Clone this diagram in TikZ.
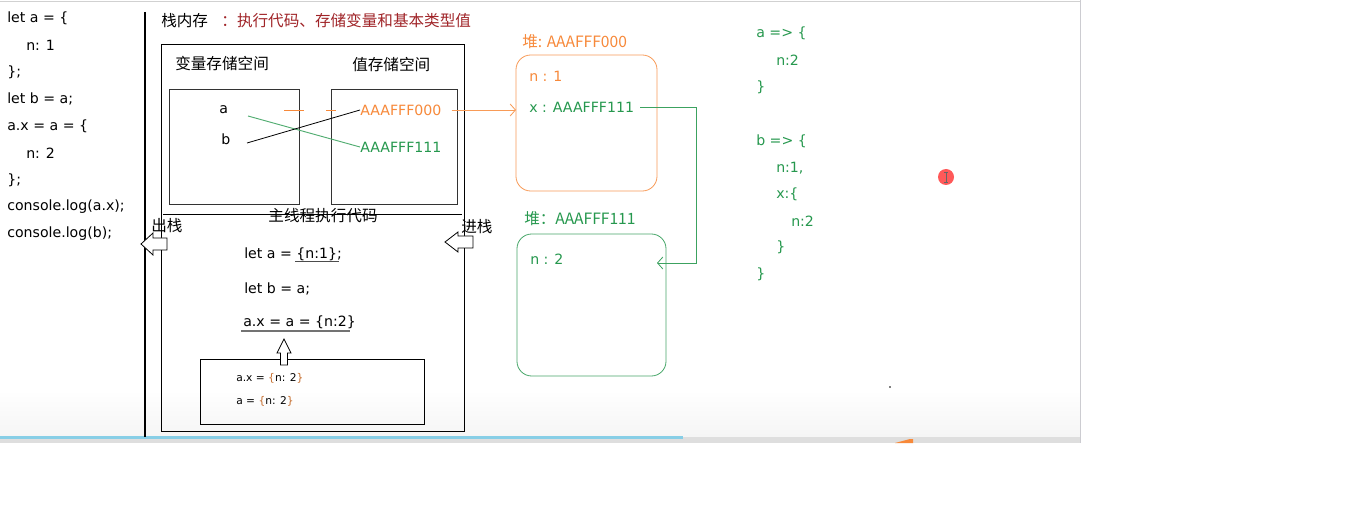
\documentclass[tikz,border=0pt]{standalone}
\usepackage{fontspec}
\setmainfont{DejaVu Sans}
\newfontfamily\cjk{Noto Sans CJK SC}
\usetikzlibrary{arrows.meta}
\definecolor{org}{RGB}{247,137,58}
\definecolor{grn}{RGB}{38,152,78}
\definecolor{dred}{RGB}{160,36,40}
\definecolor{barblue}{RGB}{135,206,230}
\begin{document}
\begin{tikzpicture}[x=0.75pt,y=-0.75pt,
  code/.style={anchor=west,inner sep=0pt,font=\fontsize{10.6pt}{12pt}\selectfont},
  small/.style={anchor=west,inner sep=0pt,font=\fontsize{8pt}{10pt}\selectfont},
  cn/.style={anchor=west,inner sep=0pt,font=\cjk\fontsize{11.7pt}{13pt}\selectfont},
  gcode/.style={code,text=grn},
  box/.style={draw=black,line width=0.7pt},
  heap/.style={rounded corners=11pt,line width=0.6pt}]
\useasboundingbox (0,0) rectangle (1357,531);
\fill[white] (0,0) rectangle (1357,531);
% screenshot frame
\shade[top color=white,bottom color=black!4] (0,390) rectangle (1080,437);
\fill[black!13] (0,437) rectangle (1080,443);
\fill[barblue] (0,436) rectangle (683,438.5);
\draw[black!18] (0,1.5) -- (1080,1.5);
\draw[blue!10!black!20] (1080,0) -- (1080,443);
\fill[org] (895,443) -- (910,439) -- (913,439) -- (913,443) -- cycle;
% left code
\node[code] (l1) at (7,18) {let a = \{};
\node[code] (l2) at (26,45) {n: 1};
\node[code] (l3) at (7,72) {\};};
\node[code] (l4) at (7,99) {let b = a;};
\node[code] (l5) at (7,126) {a.x = a = \{};
\node[code] (l6) at (26,153) {n: 2};
\node[code] (l7) at (7,180) {\};};
\node[code] (l8) at (7,207) {console.log(a.x);};
\node[code] (l9) at (7,234) {console.log(b);};
\draw[line width=0.8pt] (145,12) -- (145,437);
% title
\node[cn] (title) at (161,21) {栈内存\hspace{10pt}\textcolor{dred}{：执行代码、存储变量和基本类型值}};
% stack boxes
\draw[box] (161,44) rectangle (464,431);
\node[cn] (varsp) at (175,64) {变量存储空间};
\node[cn] (valsp) at (352,65) {值存储空间};
\draw[box,black!80,line width=0.6pt] (169,89) rectangle (299,204);
\draw[box,black!80,line width=0.6pt] (331,89) rectangle (457,204);
\node[code] (va) at (219,110) {a};
\node[code] (vb) at (221,139) {b};
\node[code,text=org] (v0) at (360,110) {AAAFFF000};
\node[code,text=grn] (v1) at (360,147) {AAAFFF111};
\draw[org,line width=0.6pt] (284,110) -- (304,110) (326,110) -- (336,110);
\draw[grn!80,line width=0.7pt] (248,116) -- (v1.west);
\draw[black,line width=0.6pt] (247,143) -- (v0.west);
% main thread
\draw[line width=0.6pt] (163,214) -- (462,214);
\node[cn,anchor=center] (main) at (323,216) {主线程执行代码};
\node[cn] (out) at (151,226) {出栈};
\node[cn] (in) at (461,227) {进栈};
\draw[line width=0.6pt,fill=white] (141,244) -- (153,233) -- (153,238) -- (167,238) -- (167,250) -- (153,250) -- (153,255) -- cycle;
\draw[line width=0.6pt,fill=white] (445,242) -- (458,232) -- (458,236) -- (473,236) -- (473,248) -- (458,248) -- (458,252) -- cycle;
\node[code] (s1) at (244,254) {let a = \{n:1\};};
\draw[black!70,line width=0.6pt] (295,261.5) -- (339,261.5);
\node[code] (s2) at (244,289) {let b = a;};
\node[code] (s3) at (243,322) {a.x = a = \{n:2\}};
\draw[black!55,line width=1.2pt] (241,331) -- (350,331);
\draw[box] (200,359) rectangle (424,424);
\draw[line width=0.6pt,fill=white] (284,339) -- (291,353) -- (287.5,353) -- (287.5,365) -- (280.5,365) -- (280.5,353) -- (277,353) -- cycle;
\node[small] (b1) at (236,378) {a.x = \textcolor{org!80!black}{\{}n: 2\textcolor{org!80!black}{\}}};
\node[small] (b2) at (236,401) {a = \textcolor{org!80!black}{\{}n: 2\textcolor{org!80!black}{\}}};
% heap 1
\node[cn,text=org] (h0t) at (522,42) {堆: AAAFFF000};
\draw[heap,draw=org!85] (516,55) rectangle (657,191);
\coordinate (h0w) at (516,110);
\node[code,text=org] (n1) at (529,76) {n : 1};
\node[code,text=grn] (x1) at (529,107) {x : AAAFFF111};
\draw[org!85,line width=0.6pt,-{Straight Barb[length=4pt,width=9pt]}] (v0.east) ++(10,0) -- (h0w);
% heap 2
\node[cn,text=grn] (h1t) at (524,219) {堆：AAAFFF111};
\draw[heap,draw=grn!85] (517,234) rectangle (666,376);
\node[code,text=grn] (n2) at (530,259) {n : 2};
\coordinate (h1e) at (657,263);
\draw[grn!90,line width=0.6pt,-{Straight Barb[length=4pt,width=9pt]}] (x1.east) ++(6,0) -- (696,107) -- (696,263) -- (h1e);
% right text
\node[gcode] (r1) at (756,33) {a => \{};
\node[gcode] (r2) at (776,60) {n:2};
\node[gcode] (r3) at (756,87) {\}};
\node[gcode] (r4) at (756,141) {b => \{};
\node[gcode] (r5) at (776,168) {n:1,};
\node[gcode] (r6) at (776,194) {x:\{};
\node[gcode] (r7) at (791,221) {n:2};
\node[gcode] (r8) at (776,247) {\}};
\node[gcode] (r9) at (756,274) {\}};
% cursor
\fill[red!65] (946,177) circle (8);
\draw[black!60,line width=0.5pt] (946,172) -- (946,182) (944,172) -- (948,172) (944,182) -- (948,182);
\fill[black] (890,387) circle (0.9);
\end{tikzpicture}
\end{document}
